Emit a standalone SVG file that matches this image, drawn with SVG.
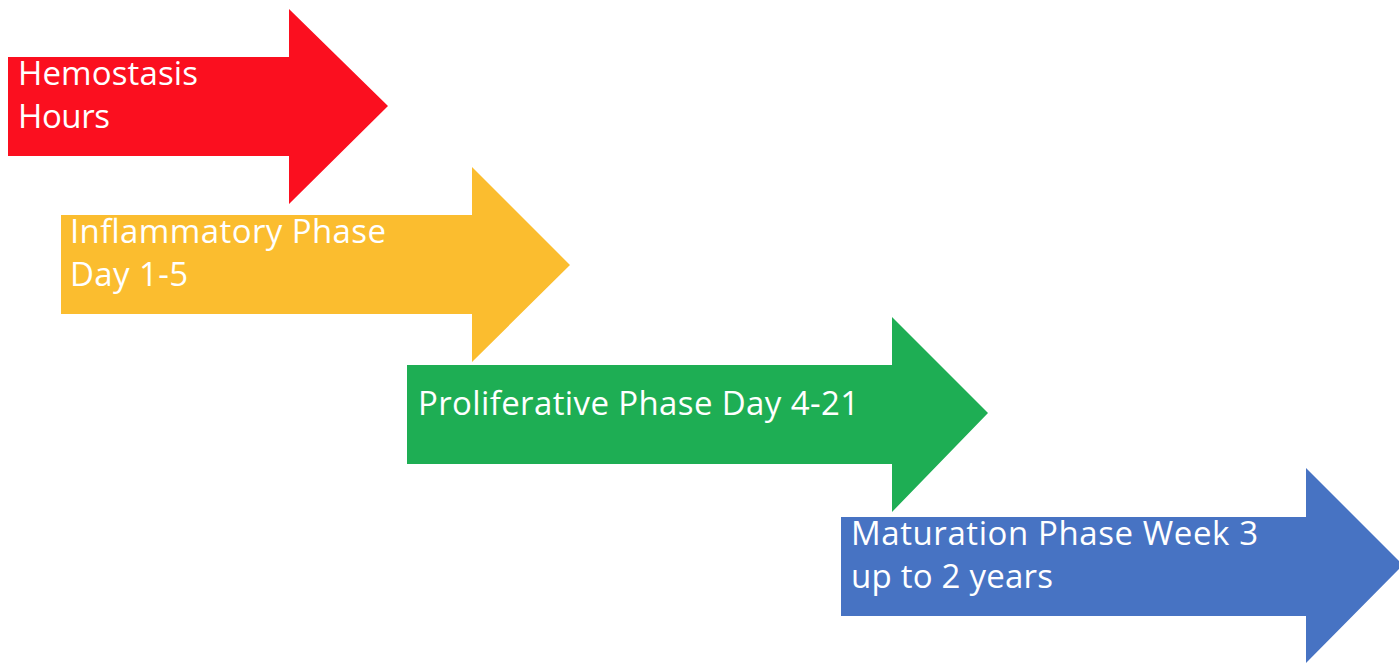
<svg xmlns="http://www.w3.org/2000/svg" width="1399" height="664" viewBox="0 0 1399 664">
  <style>
    .label { font-family: "Open Sans", "Noto Sans", "Liberation Sans", sans-serif; font-size: 33px; fill: #ffffff; }
    .red { fill: #fb0f1f; }
    .yellow { fill: #fbbd2f; }
    .green { fill: #1eae54; }
    .blue { fill: #4773c3; }
  </style>
  <rect width="1399" height="664" fill="#ffffff"/>

  <!-- Phase 1: block arrow, red -->
  <g id="hemostasis">
    <polygon class="red" points="8,57 289,57 289,9 388,106 289,204 289,156 8,156"/>
    <text class="label" x="18" y="85" textLength="180">Hemostasis</text>
    <text class="label" x="18" y="128" textLength="92">Hours</text>
  </g>

  <!-- Phase 2: block arrow, yellow -->
  <g id="inflammatory">
    <polygon class="yellow" points="61,215 472,215 472,167 570,265 472,362 472,314 61,314"/>
    <text class="label" x="70" y="243" textLength="316">Inflammatory Phase</text>
    <text class="label" x="70" y="286" textLength="118">Day 1-5</text>
  </g>

  <!-- Phase 3: block arrow, green -->
  <g id="proliferative">
    <polygon class="green" points="407,365 892,365 892,317 988,413 892,512 892,464 407,464"/>
    <text class="label" x="418" y="415" textLength="441">Proliferative Phase Day 4-21</text>
  </g>

  <!-- Phase 4: block arrow, blue -->
  <g id="maturation">
    <polygon class="blue" points="841,517 1306,517 1306,468 1403,565 1306,663 1306,616 841,616"/>
    <text class="label" x="851" y="545" textLength="407">Maturation Phase Week 3</text>
    <text class="label" x="851" y="588" textLength="202">up to 2 years</text>
  </g>

  <!-- no separate connectors: the arrows themselves carry the sequence -->
  <g id="connectors"/>
</svg>
